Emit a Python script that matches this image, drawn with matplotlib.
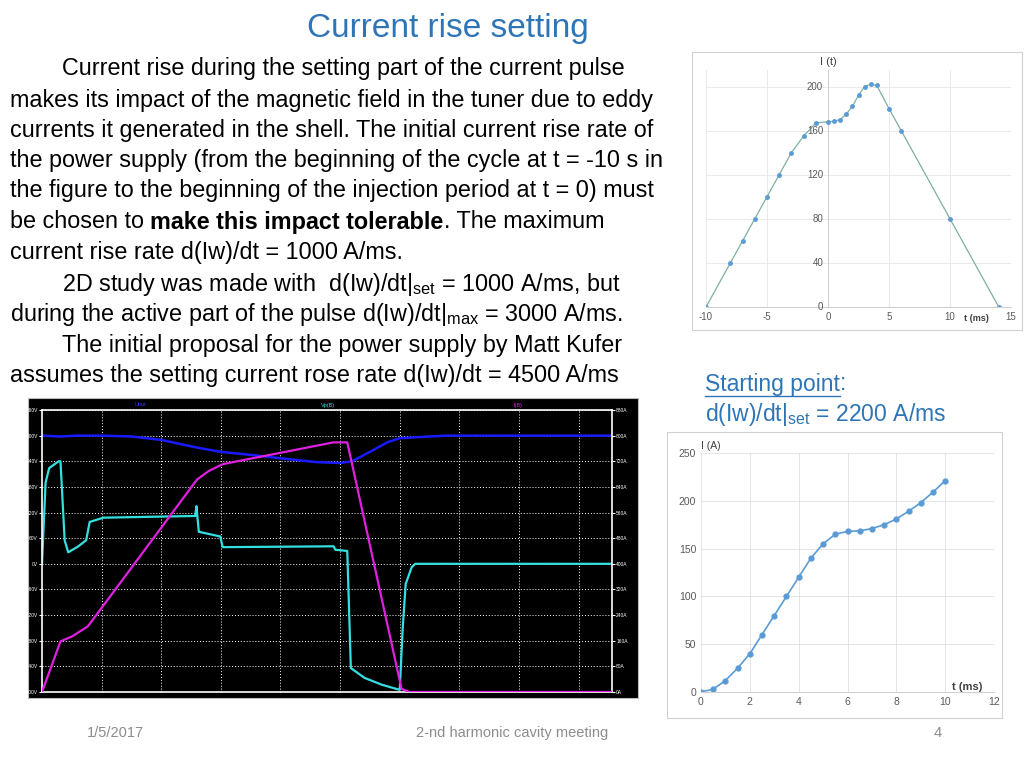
import matplotlib
matplotlib.use("Agg")
import matplotlib.pyplot as plt
from matplotlib.patches import Rectangle
from matplotlib.ticker import FixedLocator

plt.rcParams["font.family"] = "Liberation Sans"
plt.rcParams["mathtext.fontset"] = "custom"
plt.rcParams["mathtext.rm"] = "Liberation Sans"
plt.rcParams["mathtext.it"] = "Liberation Sans"
plt.rcParams["axes.unicode_minus"] = False

BLUE_TXT = "#2e75b6"
W, H = 1024, 768

# --- data: oscilloscope traces (x in divisions) ---
cyan_t = [0, 0.06, 0.12, 0.28, 0.31, 0.38, 0.44, 0.60, 0.74, 0.80, 1.03, 2.57, 2.59, 2.63,
          2.99, 3.03, 4.89, 4.92, 5.12, 5.18, 5.41, 5.70, 6.0, 6.05, 6.10, 6.20, 6.26, 9.56]
cyan_v = [0, 190, 224, 240, 240, 55, 27, 40, 55, 98, 108, 112, 135, 75,
          64, 39, 41, 33, 30, -244, -267, -283, -295, -150, -47, -8, 0, 0]
blue_t = [0, 0.3, 0.6, 1.0, 1.5, 2.0, 2.6, 3.0, 3.5, 4.0, 4.6, 5.0, 5.2, 5.5, 5.8, 6.0, 6.5, 6.8, 9.56]
blue_v = [300, 298, 300, 300, 298, 290, 272, 262, 255, 247, 238, 236, 240, 262, 285, 294, 298, 300, 300]
mag_t = [0, 0.31, 0.51, 0.77, 2.6, 2.8, 3.03, 4.89, 5.12, 6.03, 6.16, 9.56]
mag_a = [0, 158, 174, 205, 663, 690, 711, 779, 779, 10, 0, 0]
volt_ticks = [360, 300, 240, 180, 120, 60, 0, -60, -120, -180, -240, -300]
amp_ticks = [880, 800, 720, 640, 560, 480, 400, 320, 240, 160, 80, 0]

# --- data: I(t) pulse, top right ---
pulse_t = [-10, -8, -7, -6, -5, -4, -3, -2, -1, 0, 0.5, 1, 1.5, 2, 2.5, 3, 3.5, 4, 5, 6, 10, 14]
pulse_i = [0, 40, 60, 80, 100, 120, 140, 155, 167, 168, 168.5, 170, 175, 182, 192, 200, 202, 201, 180, 160, 80, 0]

# --- data: starting point, bottom right ---
start_t = [0, 0.5, 1, 1.5, 2, 2.5, 3, 3.5, 4, 4.5, 5, 5.5, 6, 6.5, 7, 7.5, 8, 8.5, 9, 9.5, 10]
start_i = [0, 3, 12, 25, 40, 60, 80, 100, 120, 140, 155, 165, 168, 168.5, 171, 175, 181, 189, 198, 209, 221]


def box(x0, y0, x1, y1):
    return [x0 / W, 1 - y1 / H, (x1 - x0) / W, (y1 - y0) / H]


fig = plt.figure(figsize=(10.24, 7.68), dpi=100)
fig.patch.set_facecolor("white")

fig.text(448 / W, 1 - 28 / H, "Current rise setting", color=BLUE_TXT, fontsize=24,
         ha="center", va="center")

renderer = fig.canvas.get_renderer()
BODY = 16.8


def runs(x, y, parts, size=BODY):
    # draw text pieces one after another on a line
    px = x
    for txt, weight in parts:
        t = fig.text(px / W, 1 - y / H, txt, fontsize=size, fontweight=weight,
                     va="center", ha="left", color="black")
        bb = t.get_window_extent(renderer=renderer)
        px += bb.width


lines = [
    (62, [("Current rise during the setting part of the current pulse", "normal")]),
    (10, [("makes its impact of the magnetic field in the tuner due to eddy", "normal")]),
    (10, [("currents it generated in the shell. The initial current rise rate of", "normal")]),
    (10, [("the power supply (from the beginning of the cycle at t = -10 s in", "normal")]),
    (10, [("the figure to the beginning of the injection period at t = 0) must", "normal")]),
    (10, [("be chosen to ", "normal"), ("make this impact tolerable", "bold"), (". The maximum", "normal")]),
    (10, [("current rise rate d(Iw)/dt = 1000 A/ms.", "normal")]),
    (62, [(r"2D study was made with  d(Iw)/dt|$_{\mathrm{set}}$ = 1000 A/ms, but", "normal")]),
    (10, [(r"during the active part of the pulse d(Iw)/dt|$_{\mathrm{max}}$ = 3000 A/ms.", "normal")]),
    (62, [("The initial proposal for the power supply by Matt Kufer", "normal")]),
    (10, [("assumes the setting current rose rate d(Iw)/dt = 4500 A/ms", "normal")]),
]
ys = [69, 100, 130, 161, 191, 222, 253, 284, 315, 346, 376]
for (x, parts), y in zip(lines, ys):
    runs(x, y, parts)

SP = 16.5
t = fig.text(705 / W, 1 - 384 / H, "Starting point", color=BLUE_TXT, fontsize=SP, va="center")
bb = t.get_window_extent(renderer=renderer)
fig.add_artist(plt.Line2D([705 / W, (705 + bb.width) / W], [1 - 396 / H] * 2,
                          color=BLUE_TXT, lw=1))
fig.text((705 + bb.width) / W, 1 - 384 / H, ":", color=BLUE_TXT, fontsize=SP, va="center")
fig.text(705 / W, 1 - 414 / H, r"d(Iw)/dt|$_{\mathrm{set}}$ = 2200 A/ms", color=BLUE_TXT,
         fontsize=SP, va="center")

# footer
for x, s in [(115, "1/5/2017"), (512, "2-nd harmonic cavity meeting"), (938, "4")]:
    fig.text(x / W, 1 - 733 / H, s, color="#8c8c8c", fontsize=10.5, ha="center", va="center")

# --- oscilloscope ---
fig.add_artist(Rectangle((28 / W, 1 - 698 / H), 610 / W, 300 / H, transform=fig.transFigure,
                         facecolor="black", edgecolor="#bbbbbb", lw=0.8, zorder=0))
ax = fig.add_axes(box(42, 410, 612, 692))
ax.set_facecolor("black")
ax.set_xlim(0, 9.56)
ax.set_ylim(-300, 360)
ax.xaxis.set_major_locator(FixedLocator(range(1, 10)))
ax.set_xticklabels([])
ax.tick_params(axis="x", length=0)
ax.set_yticks(volt_ticks)
ax.set_yticklabels([f"{v}V" for v in volt_ticks], color="white", fontsize=3.5)
ax.tick_params(axis="y", length=2, color="white", pad=1)
ax.grid(True, color="white", ls=(0, (1, 2)), lw=0.7)
for s in ax.spines.values():
    s.set_color("white")
    s.set_linewidth(1.2)
ax.plot(blue_t, blue_v, color="#1a1aff", lw=1.8)
ax.plot(cyan_t, cyan_v, color="#33e0e0", lw=1.6)
ax2 = ax.twinx()
ax2.set_ylim(0, 880)
ax2.set_yticks(amp_ticks)
ax2.set_yticklabels([f"{a}A" for a in amp_ticks], color="white", fontsize=3.5)
ax2.tick_params(axis="y", length=2, color="white", pad=1)
ax2.plot(mag_t, mag_a, color="#e020e0", lw=1.6)
for s in ax2.spines.values():
    s.set_visible(False)
fig.text(140 / W, 1 - 405 / H, "Uout", color="#3333ff", fontsize=4, ha="center", va="center")
fig.text(328 / W, 1 - 405 / H, "Vp(B)", color="#33e0e0", fontsize=4, ha="center", va="center")
fig.text(518 / W, 1 - 405 / H, "I(B)", color="#e020e0", fontsize=4, ha="center", va="center")

# --- I(t) pulse chart ---
fig.add_artist(Rectangle((692 / W, 1 - 330 / H), 330 / W, 278 / H, transform=fig.transFigure,
                         facecolor="white", edgecolor="#d0d0d0", lw=0.8, zorder=0))
axp = fig.add_axes(box(706, 70, 1011, 307))
axp.set_xlim(-10, 15)
axp.set_ylim(0, 215)
axp.set_xticks([-10, -5, 0, 5, 10, 15])
axp.set_yticks([0, 40, 80, 120, 160, 200])
axp.grid(True, color="#e6e6e6", lw=0.6)
for k in ["top", "right", "left"]:
    axp.spines[k].set_visible(False)
axp.spines["bottom"].set_color("#d0d0d0")
axp.tick_params(length=0, labelsize=7, colors="#595959")
axp.axvline(0, color="#d0d0d0", lw=0.8)
for lab in axp.get_yticklabels():
    lab.set_visible(False)
for v in [0, 40, 80, 120, 160, 200]:
    axp.text(-0.4, v, str(v), fontsize=7, color="#595959", ha="right", va="center")
axp.plot(pulse_t, pulse_i, color="#7faf9f", lw=0.9, marker="o", ms=2.5,
         mfc="#5b9bd5", mec="#5b9bd5")
axp.text(0, 218, "I (t)", fontsize=8, color="#404040", ha="center", va="bottom")
axp.text(12.2, -6, "t (ms)", fontsize=6.5, fontweight="bold", color="#404040", ha="center", va="top")

# --- starting point chart ---
fig.add_artist(Rectangle((667 / W, 1 - 718 / H), 335 / W, 286 / H, transform=fig.transFigure,
                         facecolor="white", edgecolor="#d0d0d0", lw=0.8, zorder=0))
axs = fig.add_axes(box(701, 453, 994, 692))
axs.set_xlim(0, 12)
axs.set_ylim(0, 250)
axs.set_xticks(range(0, 13, 2))
axs.set_yticks(range(0, 251, 50))
axs.grid(True, color="#e0e0e0", lw=0.6)
for k in ["top", "right", "left"]:
    axs.spines[k].set_visible(False)
axs.spines["bottom"].set_color("#d0d0d0")
axs.tick_params(length=0, labelsize=7.5, colors="#595959")
axs.plot(start_t, start_i, color="#5b9bd5", lw=1.2, marker="o", ms=3.5)
axs.text(0, 252, "I (A)", fontsize=7.5, color="#404040", ha="left", va="bottom")
axs.text(10.9, 0, "t (ms)", fontsize=8, fontweight="bold", color="#404040", ha="center", va="bottom")

fig.savefig("out.png", dpi=100)
